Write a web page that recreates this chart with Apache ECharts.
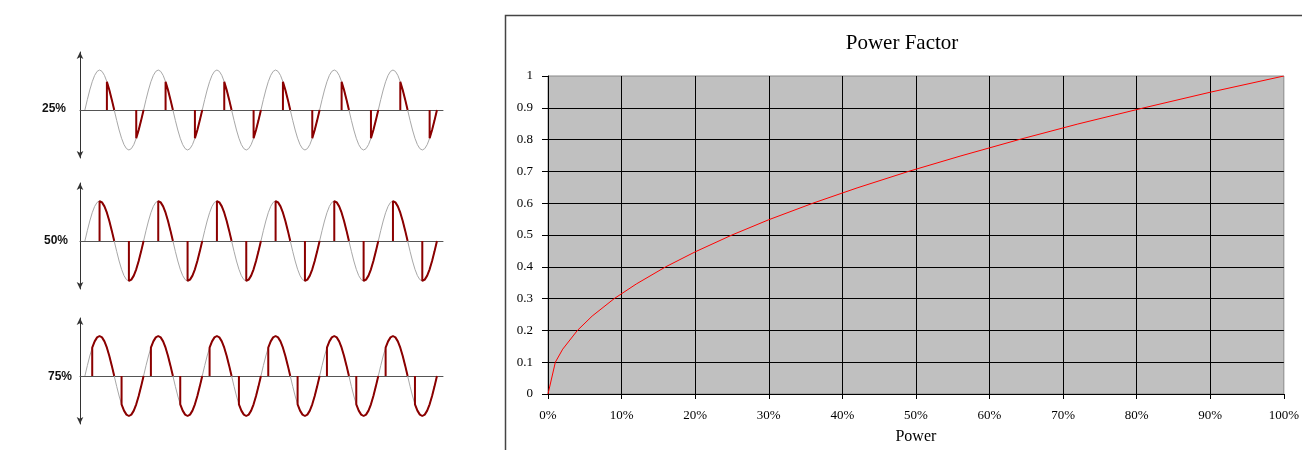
<!DOCTYPE html>
<html><head><meta charset="utf-8">
<script src="https://cdn.jsdelivr.net/npm/echarts@6/dist/echarts.min.js"></script>
<style>html,body{margin:0;padding:0;background:#fff}#c{width:1302px;height:450px}</style>
</head><body><div id="c"></div>
<script>
// ---- Power factor chart data ----
const powerPct = [0, 1, 2, 4, 6, 9, 12, 16, 20, 25, 30, 36, 42, 49, 56, 64, 72, 81, 90, 100];
const powerFactor = [0, 0.1, 0.141, 0.2, 0.245, 0.3, 0.346, 0.4, 0.447, 0.5, 0.548, 0.6, 0.648, 0.7, 0.748, 0.8, 0.849, 0.9, 0.949, 1];
const xTickLabels = ['0%','10%','20%','30%','40%','50%','60%','70%','80%','90%','100%'];
const yTickLabels = ['0','0.1','0.2','0.3','0.4','0.5','0.6','0.7','0.8','0.9','1'];
// ---- Dimmer waveform data ----
const dimLabels = ['25%', '50%', '75%'];
const cutAngles = [135, 90, 45];
const cycleAngles = [0,15,30,45,60,75,90,105,120,135,150,165,180,195,210,225,240,255,270,285,300,315,330,345,360];
const cycleValues = [0,0.259,0.5,0.707,0.866,0.966,1,0.966,0.866,0.707,0.5,0.259,0,-0.259,-0.5,-0.707,-0.866,-0.966,-1,-0.966,-0.866,-0.707,-0.5,-0.259,0];
const cycles = 6;

const chart = echarts.init(document.getElementById('c'), null, {renderer: 'canvas'});
const serif = '"Liberation Serif", "Times New Roman", serif';
const waveTops = [52, 183, 318];

const grids = [], xAxes = [], yAxes = [], series = [];
waveTops.forEach((top, p) => {
  grids.push({left: 80, width: 363, top: top, height: 106, containLabel: false});
  xAxes.push({type: 'value', gridIndex: p, min: -30, max: 2197,
    axisLine: {show: true, onZero: true, lineStyle: {color: '#555', width: 1}},
    axisTick: {show: false}, axisLabel: {show: false}, splitLine: {show: false}});
  yAxes.push({type: 'value', gridIndex: p, min: -1.2, max: 1.45,
    axisLine: {show: true, onZero: false, symbol: ['arrow', 'arrow'], symbolSize: [5, 7], lineStyle: {color: '#333', width: 1}},
    axisTick: {show: false}, axisLabel: {show: false}, splitLine: {show: false}});
  const gray = [];
  for (let c = 0; c < cycles; c++) {
    for (let i = 0; i < 24; i++) gray.push([c * 360 + cycleAngles[i], cycleValues[i]]);
  }
  gray.push([cycles * 360, 0]);
  const red = [];
  const k0off = cutAngles[p] / 15;
  for (let c = 0; c < cycles; c++) {
    for (let h = 0; h < 2; h++) {
      const off = h * 12;
      const k0 = off + k0off;
      red.push([c * 360 + cycleAngles[k0], 0]);
      for (let k = k0; k <= off + 12; k++) red.push([c * 360 + cycleAngles[k], cycleValues[k]]);
      red.push([c * 360 + cycleAngles[off + 12], '-']);
    }
  }
  series.push({type: 'line', xAxisIndex: p, yAxisIndex: p, data: gray, showSymbol: false, silent: true,
    lineStyle: {color: '#A8A8A8', width: 1}, z: 2});
  series.push({type: 'line', xAxisIndex: p, yAxisIndex: p, data: red, showSymbol: false, silent: true,
    connectNulls: false, lineStyle: {color: '#8B0000', width: 2}, z: 3});
});

// Power factor chart
grids.push({left: 548, top: 76, width: 737, height: 324, show: true, backgroundColor: '#C0C0C0', borderColor: '#888', borderWidth: 1});
xAxes.push({type: 'value', gridIndex: 3, min: 0, max: 100, interval: 10,
  name: 'Power', nameLocation: 'middle', nameGap: 35,
  nameTextStyle: {fontFamily: serif, fontSize: 16, color: '#000'},
  axisLine: {show: true, onZero: false, lineStyle: {color: '#000', width: 1}},
  axisTick: {show: true, length: 5, lineStyle: {color: '#000'}},
  axisLabel: {fontFamily: serif, fontSize: 13, color: '#000', margin: 15,
    formatter: v => xTickLabels[Math.round(v / 10)]},
  splitLine: {show: true, showMaxLine: false, showMinLine: false, lineStyle: {color: '#000', width: 1}}});
yAxes.push({type: 'value', gridIndex: 3, min: 0, max: 1, interval: 0.1,
  axisLine: {show: true, onZero: false, lineStyle: {color: '#000', width: 1}},
  axisTick: {show: true, length: 6, lineStyle: {color: '#000'}},
  axisLabel: {fontFamily: serif, fontSize: 13, color: '#000', margin: 15,
    formatter: v => yTickLabels[Math.round(v * 10)]},
  splitLine: {show: true, showMaxLine: false, showMinLine: false, lineStyle: {color: '#000', width: 1}}});
series.push({type: 'line', xAxisIndex: 3, yAxisIndex: 3, name: 'Power Factor',
  data: powerPct.map((x, i) => [x, powerFactor[i]]), showSymbol: false,
  lineStyle: {color: '#FF0000', width: 1}, z: 5});

const labelX = [66, 68, 72];
const labelY = [109, 241, 377];
const graphics = [
  {type: 'rect', shape: {x: 505.5, y: 15.5, width: 1000, height: 1000}, style: {fill: 'none', stroke: '#444', lineWidth: 1.5}, z: -1, silent: true},
  {type: 'text', x: 902, y: 43, style: {text: 'Power Factor', font: '21px ' + serif, fill: '#000', textAlign: 'center', textVerticalAlign: 'middle'}}
];
dimLabels.forEach((t, i) => {
  graphics.push({type: 'text', x: labelX[i], y: labelY[i], style: {text: t, font: 'bold 12px "Liberation Sans", Arial, sans-serif', fill: '#111', textAlign: 'right', textVerticalAlign: 'middle'}});
});

chart.setOption({
  animation: false,
  backgroundColor: '#fff',
  grid: grids, xAxis: xAxes, yAxis: yAxes, series: series,
  graphic: graphics
});
</script></body></html>
